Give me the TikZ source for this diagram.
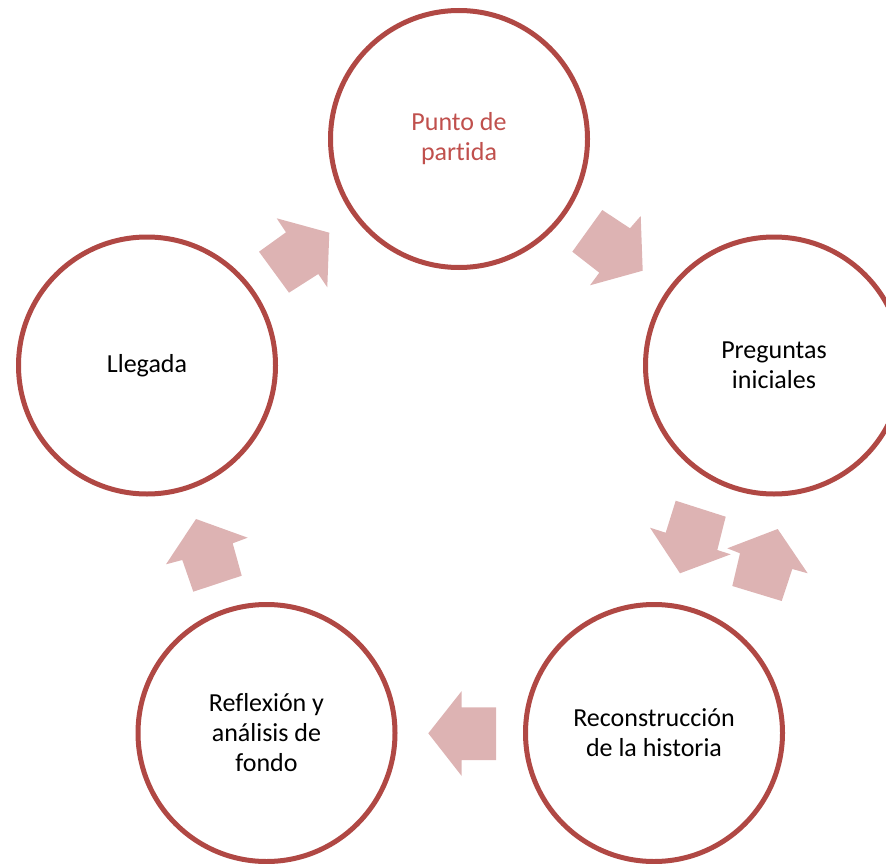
\documentclass[tikz,border=0pt]{standalone}
\usepackage{fontspec}
\setmainfont{Carlito}[Ligatures=NoCommon]
\usepackage{tikz}
\definecolor{ringred}{RGB}{176,72,68}
\definecolor{textred}{RGB}{192,80,77}
\definecolor{arrowpink}{RGB}{221,179,179}

\begin{document}
\begin{tikzpicture}[x=1pt, y=-1pt,
    ring/.style={circle, draw=ringred, line width=5pt, fill=white, minimum size=257pt,
        inner sep=0pt, align=center, font=\fontsize{26}{30}\selectfont},
    blockarrow/.style={fill=arrowpink, draw=none}]
    \useasboundingbox (0,0) rectangle (886,864);
    \clip (0,0) rectangle (886,864);
    % steps of the cycle
    \node[ring, text=textred] (partida) at (459,139) {Punto de\\partida};
    \node[ring] (preguntas) at (774,365.5) {Preguntas\\iniciales};
    \node[ring] (reconstruccion) at (654,733) {Reconstrucción\\de la historia};
    \node[ring] (reflexion) at (266.5,733) {Reflexión y\\análisis de\\fondo};
    \node[ring] (llegada) at (147,365.5) {Llegada};
    % arrows between the steps
    \fill[blockarrow] (276.7,218.3) -- (286,232.3) -- (259,251.7) -- (289,292.7)
        -- (318.3,274) -- (327.3,287.3) -- (329.3,232.7) -- cycle;
    \fill[blockarrow] (602.3,210) -- (630,228.3) -- (640.7,216) -- (642.7,270.7)
        -- (590,285.3) -- (599.3,272.7) -- (572.3,251.7) -- cycle;
    \fill[blockarrow] (675.7,500.7) -- (725.7,516.7) -- (717.3,550) -- (730.7,554.3)
        -- (680,573.3) -- (650,527.7) -- (665.7,532.7) -- cycle;
    \fill[blockarrow] (727.3,548.3) -- (777.7,529) -- (807.7,573.3) -- (792.3,569)
        -- (781.7,601) -- (732.3,586) -- (740,553.3) -- cycle;
    \fill[blockarrow] (428.3,733.3) -- (461.7,691) -- (461.7,707.3) -- (496,707.3)
        -- (496,760) -- (461.7,760) -- (461.7,776) -- cycle;
    \fill[blockarrow] (196,519) -- (247.7,537.7) -- (232.7,543.3) -- (241.7,575.7)
        -- (193.3,591.7) -- (182.3,560) -- (166,564.3) -- cycle;
\end{tikzpicture}
\end{document}
